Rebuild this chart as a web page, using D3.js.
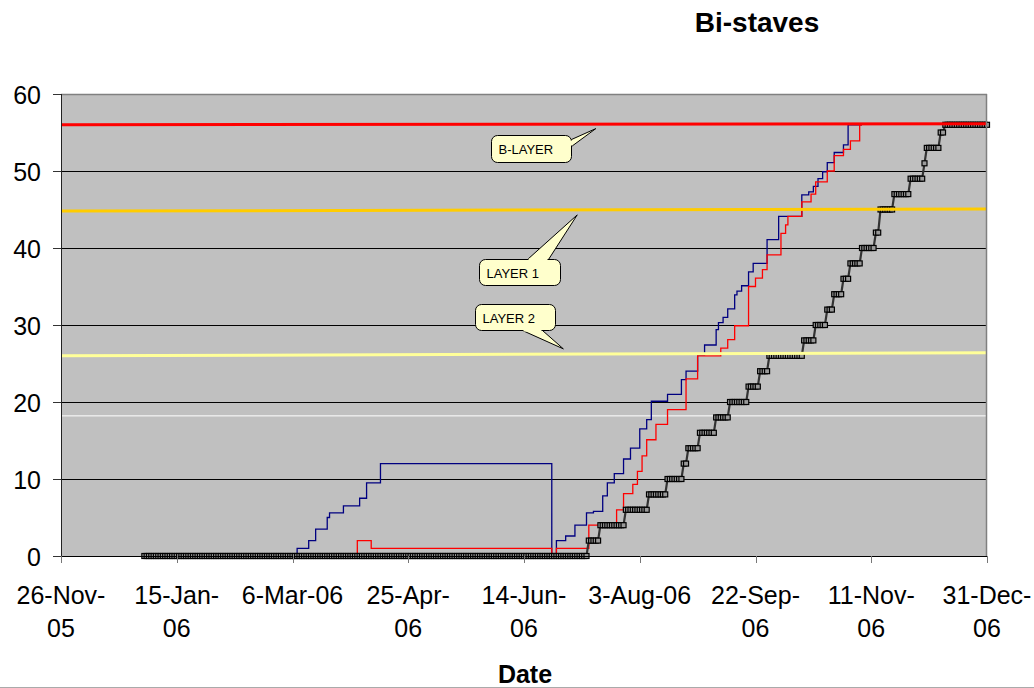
<!DOCTYPE html>
<html><head><meta charset="utf-8">
<script src="https://cdn.jsdelivr.net/npm/d3@7"></script>
<style>html,body{margin:0;padding:0;background:#fff;} svg{display:block;font-family:"Liberation Sans",Arial,sans-serif;}</style>
</head><body><svg id="chart" width="1034" height="688"></svg>
<script>
// ---------- DATA ----------
const chartTitle = "Bi-staves";
const xAxisTitle = "Date";
const xDomain = ["2005-11-26", "2006-12-31"];
const xTickDates = ["2005-11-26","2006-01-15","2006-03-06","2006-04-25","2006-06-14","2006-08-03","2006-09-22","2006-11-11","2006-12-31"];
const xTickLabels = [["26-Nov-","05"],["15-Jan-","06"],["6-Mar-06"],["25-Apr-","06"],["14-Jun-","06"],["3-Aug-06"],["22-Sep-","06"],["11-Nov-","06"],["31-Dec-","06"]];
const yTicks = [0, 10, 20, 30, 40, 50, 60];

// blue series (value changes)
const blueDates = ["2006-01-01","2006-03-08","2006-03-13","2006-03-16","2006-03-21","2006-03-22","2006-03-28","2006-04-04","2006-04-07","2006-04-13",
  "2006-06-26","2006-06-28","2006-07-02","2006-07-06","2006-07-11","2006-07-14","2006-07-18","2006-07-20","2006-07-23","2006-07-27",
  "2006-07-30","2006-08-03","2006-08-06","2006-08-08","2006-08-15","2006-08-21","2006-08-23","2006-08-28","2006-08-31","2006-09-05",
  "2006-09-06","2006-09-08","2006-09-10","2006-09-13","2006-09-14","2006-09-16","2006-09-19","2006-09-21","2006-09-27","2006-10-02",
  "2006-10-12","2006-10-15","2006-10-17","2006-10-19","2006-10-21","2006-10-23","2006-10-26","2006-10-30","2006-11-01","2006-11-07"];
const blueValues = [0,1.0,2.0,3.5,5.0,5.6,6.5,7.5,9.5,12,
  0,2.0,2.6,4.0,5.6,5.8,7.8,9.5,10.7,12.6,
  14.0,16.5,17.7,20.1,21.0,22.9,24.0,26.1,27.4,29.4,
  30.3,31.0,32.1,33.9,34.4,35.1,36.9,38.0,41.1,44.1,
  46.9,47.3,48.0,49.0,49.9,51.1,52.4,53.4,56,56];

// red series (value changes)
const redDates = ["2006-01-01","2006-04-03","2006-04-09","2006-06-26","2006-06-28","2006-07-12","2006-07-24","2006-07-27","2006-07-31","2006-08-02",
  "2006-08-04","2006-08-06","2006-08-10","2006-08-15","2006-08-23","2006-08-28","2006-09-07","2006-09-10","2006-09-13","2006-09-19",
  "2006-09-22","2006-09-25","2006-09-27","2006-10-03","2006-10-05","2006-10-06","2006-10-12","2006-10-16","2006-10-18","2006-10-23",
  "2006-10-26","2006-10-30","2006-11-02","2006-11-06","2006-11-07"];
const redValues = [0,2.0,1.0,0,1.0,4.0,6.0,8.1,9.3,11.0,
  13.0,15.1,17.1,19.0,23.0,26.0,27.0,28.1,29.9,35.0,
  36.1,37.2,39.1,41.9,43.0,44.1,46.0,47.0,48.6,50.0,
  52.0,52.8,53.9,56,56];

// black series: daily records, given as runs (first date of each run, value)
const blackRunDates = ["2006-01-01","2006-07-12","2006-07-17","2006-07-28","2006-08-07","2006-08-15","2006-08-22","2006-08-24","2006-08-29","2006-09-05",
  "2006-09-11","2006-09-19","2006-09-24","2006-09-28","2006-10-13","2006-10-18","2006-10-23","2006-10-26","2006-10-30","2006-11-02",
  "2006-11-07","2006-11-13","2006-11-15","2006-11-21","2006-11-28","2006-12-04","2006-12-05","2006-12-11","2006-12-13"];
const blackRunValues = [0,2,4,6,8,10,12,14,16,18,
  20,22,24,26,28,30,32,34,36,38,
  40,42,45,47,49,51,53,55,56];
const blackEndDate = "2006-12-31";

// horizontal layer lines
const layerNames = ["WHITE", "B-LAYER", "LAYER 1", "LAYER 2"];
const layerStartValues = [18.2, 56.0, 44.8, 26.0];
const layerEndValues = [18.2, 56.15, 45.05, 26.4];
const layerColors = ["#ffffff", "#ff0000", "#ffcc00", "#ffff99"];
const layerWidths = [1, 3, 3, 3];

// callouts
const calloutLabels = ["B-LAYER", "LAYER 1", "LAYER 2"];
const calloutTipDates = ["2006-07-15", "2006-07-07", "2006-07-01"];
const calloutTipValues = [55.5, 44.3, 26.9];

// ---------- LAYOUT ----------
const svg = d3.select("#chart");
const parse = d3.utcParse("%Y-%m-%d");
const L = 61, R = 987, T = 94, B = 556;
const x = d3.scaleUtc().domain(xDomain.map(parse)).range([L, R]);
const y = d3.scaleLinear().domain([0, 60]).range([B, T]);
const cr = v => Math.round(v) + 0.5;

// plot background
svg.append("rect").attr("x", L).attr("y", T).attr("width", R - L).attr("height", B - T).attr("fill", "#c0c0c0");

// gridlines
svg.append("g").selectAll("line").data(yTicks.filter(t => t > 0 && t < 60)).join("line")
  .attr("x1", L).attr("x2", R).attr("y1", d => cr(y(d))).attr("y2", d => cr(y(d)))
  .attr("stroke", "#000").attr("stroke-width", 1);

function layerLine(i) {
  const pts = [{date: parse(xDomain[0]), value: layerStartValues[i]}, {date: parse(xDomain[1]), value: layerEndValues[i]}];
  svg.append("path").datum(pts)
    .attr("d", d3.line().x(d => x(d.date)).y(d => y(d.value)))
    .attr("fill", "none").attr("stroke", layerColors[i]).attr("stroke-width", layerWidths[i]);
}
layerLine(0);

// blue & red
const stepLine = d3.line().curve(d3.curveStepAfter).x(d => x(d.date)).y(d => y(d.value));
const blueData = blueDates.map((d, i) => ({date: parse(d), value: blueValues[i]}));
const redData = redDates.map((d, i) => ({date: parse(d), value: redValues[i]}));
svg.append("path").datum(blueData).attr("d", stepLine).attr("fill", "none").attr("stroke", "#000080").attr("stroke-width", 1.3);
svg.append("path").datum(redData).attr("d", stepLine).attr("fill", "none").attr("stroke", "#ff0000").attr("stroke-width", 1.3);

// black series with square markers
const blackData = [];
blackRunDates.forEach((ds, i) => {
  const start = parse(ds);
  const stop = i + 1 < blackRunDates.length ? parse(blackRunDates[i + 1]) : d3.utcDay.offset(parse(blackEndDate), 1);
  d3.utcDay.range(start, stop).forEach(d => blackData.push({date: d, value: blackRunValues[i]}));
});
svg.append("path").datum(blackData)
  .attr("d", d3.line().x(d => x(d.date)).y(d => y(d.value)))
  .attr("fill", "none").attr("stroke", "#333").attr("stroke-width", 2.2);
svg.append("g").selectAll("rect").data(blackData).join("rect")
  .attr("x", d => x(d.date) - 2.5).attr("y", d => y(d.value) - 2.5)
  .attr("width", 5).attr("height", 5)
  .attr("fill", "#9a9a9a").attr("stroke", "#000").attr("stroke-width", 1.2);

// layer lines on top
layerLine(1); layerLine(2); layerLine(3);

// plot border top/right
svg.append("line").attr("x1", L).attr("x2", R).attr("y1", T + 0.5).attr("y2", T + 0.5).attr("stroke", "#808080").attr("stroke-width", 1.5);
svg.append("line").attr("x1", R - 0.5).attr("x2", R - 0.5).attr("y1", T).attr("y2", B).attr("stroke", "#808080").attr("stroke-width", 1.5);

// axes
svg.append("line").attr("x1", L + 0.5).attr("x2", L + 0.5).attr("y1", T).attr("y2", B + 7).attr("stroke", "#222");
svg.append("line").attr("x1", L - 8).attr("x2", R).attr("y1", B + 0.5).attr("y2", B + 0.5).attr("stroke", "#000");
svg.append("g").selectAll("line").data(yTicks).join("line")
  .attr("x1", L - 8).attr("x2", L).attr("y1", d => cr(y(d))).attr("y2", d => cr(y(d)))
  .attr("stroke", "#333");
svg.append("g").selectAll("text").data(yTicks).join("text")
  .attr("x", 41).attr("y", d => y(d) + 10).attr("text-anchor", "end")
  .attr("font-size", 25).attr("fill", "#000").text(d => d);
svg.append("g").selectAll("line").data(xTickDates).join("line")
  .attr("x1", d => cr(x(parse(d)))).attr("x2", d => cr(x(parse(d)))).attr("y1", B).attr("y2", B + 7)
  .attr("stroke", "#777");
const xl = svg.append("g").selectAll("text").data(xTickDates).join("text")
  .attr("text-anchor", "middle").attr("font-size", 25).attr("fill", "#000");
xl.each(function(d, i) {
  const t = d3.select(this);
  xTickLabels[i].forEach((line, j) => {
    t.append("tspan").attr("x", x(parse(d))).attr("y", 604 + j * 33).text(line);
  });
});

// titles
svg.append("text").attr("x", 757).attr("y", 32).attr("text-anchor", "middle")
  .attr("font-size", 28).attr("font-weight", "bold").text(chartTitle);
svg.append("text").attr("x", 525).attr("y", 683).attr("text-anchor", "middle")
  .attr("font-size", 25).attr("font-weight", "bold").text(xAxisTitle);
svg.append("line").attr("x1", 0).attr("x2", 1034).attr("y1", 687.5).attr("y2", 687.5).attr("stroke", "#aaa");

// callouts: box offset relative to tip, wedge base points relative to box origin
const calloutLayout = [
  {dx: -105, dy: 6, w: 80, h: 27, base: [[80, 4], [80, 11]]},
  {dx: -98, dy: 44, w: 81, h: 26, base: [[48, 0], [69, 0]]},
  {dx: -88, dy: -45, w: 80, h: 26, base: [[47, 26], [67, 26]]}
];
calloutLabels.forEach((lab, i) => {
  const tx = x(parse(calloutTipDates[i])), ty = y(calloutTipValues[i]);
  const c = calloutLayout[i];
  const bx = Math.round(tx + c.dx) + 0.5, by = Math.round(ty + c.dy) + 0.5;
  const b1 = [bx + c.base[0][0], by + c.base[0][1]], b2 = [bx + c.base[1][0], by + c.base[1][1]];
  const g = svg.append("g");
  g.append("path").attr("d", `M${b1}L${tx},${ty}L${b2}Z`).attr("fill", "#ffffcc").attr("stroke", "#000").attr("stroke-width", 1);
  g.append("rect").attr("x", bx).attr("y", by).attr("width", c.w).attr("height", c.h).attr("rx", 6)
    .attr("fill", "#ffffcc").attr("stroke", "#000").attr("stroke-width", 1);
  const vert = c.base[0][0] === c.base[1][0];
  g.append("line")
    .attr("x1", vert ? b1[0] : b1[0] + 1).attr("x2", vert ? b2[0] : b2[0] - 1)
    .attr("y1", vert ? b1[1] + 1 : b1[1]).attr("y2", vert ? b2[1] - 1 : b2[1])
    .attr("stroke", "#ffffcc").attr("stroke-width", 2);
  g.append("text").attr("x", bx + 7).attr("y", by + 18).attr("font-size", 13).attr("fill", "#000").text(lab);
});
</script></body></html>
